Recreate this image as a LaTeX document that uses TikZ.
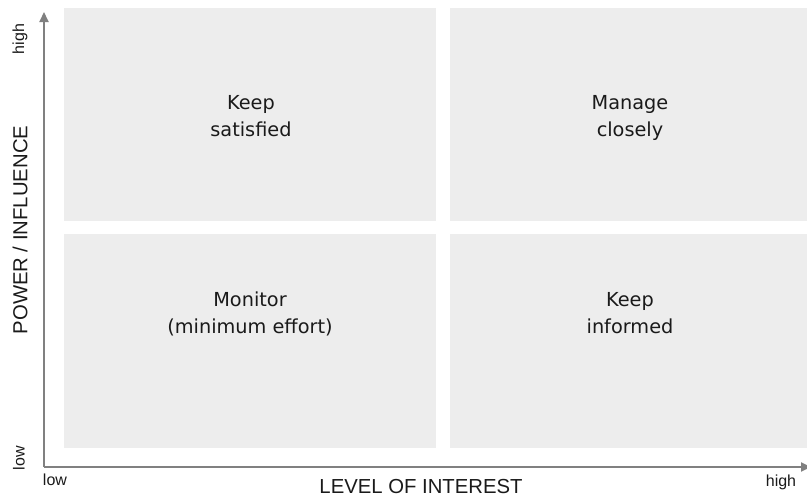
\documentclass[tikz,border=0pt]{standalone}
\usepackage{fontspec}
\setmainfont{DejaVu Sans}
\newfontfamily\axisfont{Liberation Sans}
\usetikzlibrary{arrows.meta}
\definecolor{quad}{HTML}{EDEDED}
\definecolor{axisgray}{HTML}{808080}
\definecolor{ink}{HTML}{1A1A1A}
\begin{document}
\begin{tikzpicture}[x=1pt,y=-1pt,
  quadbox/.style={fill=quad,draw=none,inner sep=0pt,anchor=north west},
  quadtext/.style={text=ink,align=center,anchor=north,inner sep=0pt,
    font=\fontsize{19.3}{27}\selectfont},
  axisline/.style={draw=axisgray,line width=2pt,-{Triangle[length=10pt,width=9pt]}},
  axistitle/.style={text=ink,font=\axisfont\fontsize{20.3}{22}\selectfont},
  ticktext/.style={text=ink,font=\axisfont\fontsize{16}{18}\selectfont}]
\useasboundingbox (0,0) rectangle (807,498);

% quadrants
\node[quadbox,minimum width=371.5pt,minimum height=213.5pt] (tl) at (64,7.5) {};
\node[quadbox,minimum width=358pt,minimum height=213.5pt] (tr) at (449.5,7.5) {};
\node[quadbox,minimum width=371.5pt,minimum height=214pt] (bl) at (64,234) {};
\node[quadbox,minimum width=358pt,minimum height=214pt] (br) at (449.5,234) {};

% quadrant labels (top of first line fixed, so every pair sits alike)
\node[quadtext] (ks) at (251,90) {\strut Keep\\satisfied\strut};
\node[quadtext] (mc) at (630,90) {\strut Manage\\closely\strut};
\node[quadtext] (mo) at (250,287) {\strut Monitor\\(minimum effort)\strut};
\node[quadtext] (ki) at (630,287) {\strut Keep\\informed\strut};

% axes
\coordinate (origin) at (44,467);
\coordinate (ytip) at (44,12);
\coordinate (xtip) at (811,467);
\draw[axisline] (origin) -- (ytip);
\draw[axisline] (origin) -- (xtip);

% axis titles
\node[axistitle,rotate=90] (ytitle) at (20,230) {POWER / INFLUENCE};
\node[axistitle] (xtitle) at (421,487) {LEVEL OF INTEREST};

% axis end labels
\node[ticktext,rotate=90] (yhigh) at (20,39) {high};
\node[ticktext,rotate=90] (ylow) at (19,458) {low};
\node[ticktext] (xlow) at (55,480) {low};
\node[ticktext] (xhigh) at (781,482) {high};
\end{tikzpicture}
\end{document}
